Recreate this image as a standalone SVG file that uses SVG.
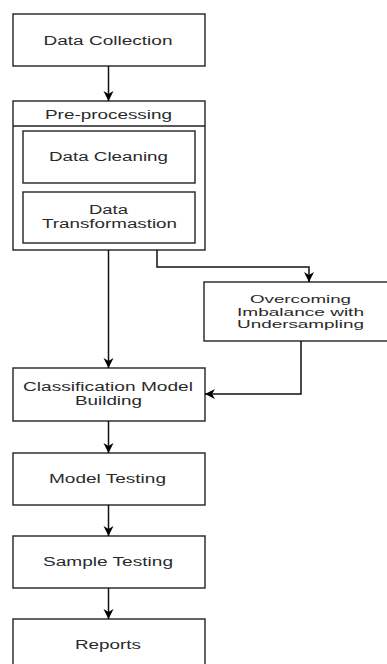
<svg xmlns="http://www.w3.org/2000/svg" width="387" height="664" viewBox="0 0 387 664">
<defs>
<marker id="ah" viewBox="0 0 10 10" refX="10" refY="5" markerWidth="10" markerHeight="11" markerUnits="userSpaceOnUse" orient="auto">
<path d="M0,0 L10,5 L0,10 L3,5 Z" fill="#000"/>
</marker>
<style>
.box{fill:#fff;stroke:#222;stroke-width:1.4}
.t{font-family:"Liberation Sans",Arial,sans-serif;font-size:12px;fill:#2a2a2a;text-anchor:middle}
.s{font-size:11px}
.c{fill:none;stroke:#111;stroke-width:1.5;marker-end:url(#ah)}
</style>
</defs>
<rect width="387" height="664" fill="#fff"/>
<g id="data-collection">
<rect class="box" x="13" y="14" width="192" height="52"/>
<text class="t" x="108" y="44.5" textLength="129" lengthAdjust="spacingAndGlyphs">Data Collection</text>
</g>
<g id="pre-processing">
<rect class="box" x="13" y="101" width="192" height="149"/>
<line x1="13" y1="126" x2="205" y2="126" stroke="#222" stroke-width="1.4"/>
<text class="t" x="108.5" y="119" textLength="127" lengthAdjust="spacingAndGlyphs">Pre-processing</text>
</g>
<g id="data-cleaning">
<rect class="box" x="23" y="131" width="172" height="52"/>
<text class="t" x="108.5" y="161" textLength="119" lengthAdjust="spacingAndGlyphs">Data Cleaning</text>
</g>
<g id="data-transformation">
<rect class="box" x="23" y="192" width="172" height="51"/>
<text class="t" x="108.5" y="214" textLength="39" lengthAdjust="spacingAndGlyphs">Data</text>
<text class="t" x="109.5" y="227.5" textLength="135" lengthAdjust="spacingAndGlyphs">Transformastion</text>
</g>
<g id="overcoming-imbalance">
<rect class="box" x="204" y="282" width="186" height="59"/>
<text class="t s" x="300.5" y="303" textLength="101" lengthAdjust="spacingAndGlyphs">Overcoming</text>
<text class="t s" x="300.5" y="315.5" textLength="127" lengthAdjust="spacingAndGlyphs">Imbalance with</text>
<text class="t s" x="300.5" y="328" textLength="127" lengthAdjust="spacingAndGlyphs">Undersampling</text>
</g>
<g id="classification">
<rect class="box" x="13" y="368" width="192" height="53"/>
<text class="t" x="108" y="391" textLength="170" lengthAdjust="spacingAndGlyphs">Classification Model</text>
<text class="t" x="108.5" y="405" textLength="67" lengthAdjust="spacingAndGlyphs">Building</text>
</g>
<g id="model-testing">
<rect class="box" x="13" y="453" width="192" height="52"/>
<text class="t" x="107.5" y="483" textLength="117" lengthAdjust="spacingAndGlyphs">Model Testing</text>
</g>
<g id="sample-testing">
<rect class="box" x="13" y="536" width="192" height="52"/>
<text class="t" x="108" y="566" textLength="130" lengthAdjust="spacingAndGlyphs">Sample Testing</text>
</g>
<g id="reports">
<rect class="box" x="13" y="619" width="192" height="60"/>
<text class="t" x="108" y="648.5" textLength="66" lengthAdjust="spacingAndGlyphs">Reports</text>
</g>
<g id="connectors">
<path class="c" d="M108.5,66 V101"/>
<path class="c" d="M108.5,250 V368"/>
<path class="c" d="M157,250 V267 H309 V282"/>
<path class="c" d="M301,341 V394 H205"/>
<path class="c" d="M108.5,421 V453"/>
<path class="c" d="M108.5,505 V536"/>
<path class="c" d="M108.5,588 V619"/>
</g>
</svg>
